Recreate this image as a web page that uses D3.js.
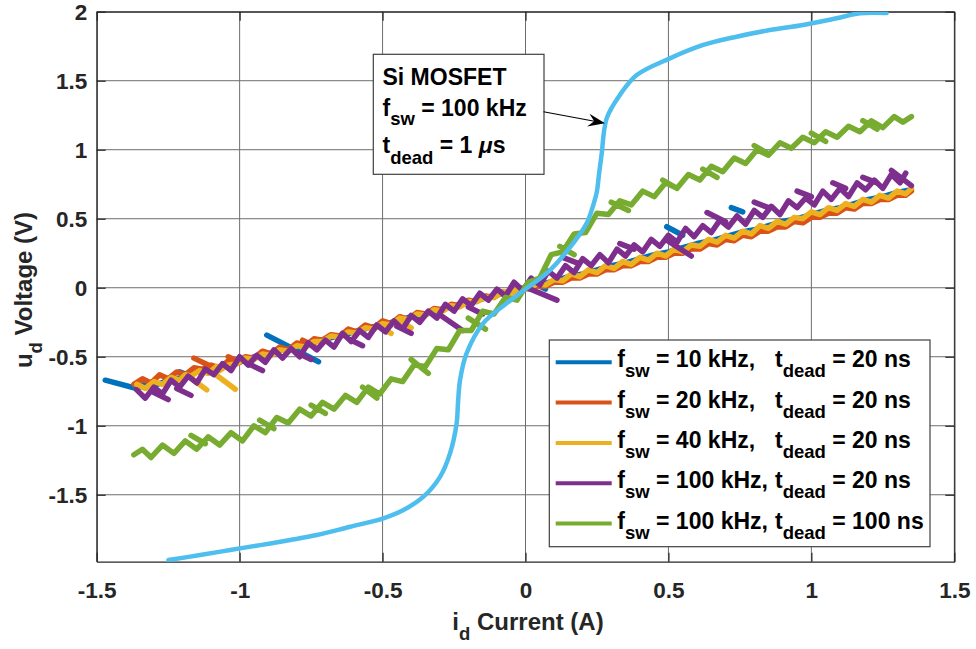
<!DOCTYPE html>
<html><head><meta charset="utf-8">
<script src="https://cdn.jsdelivr.net/npm/d3@7"></script>
<style>
body{margin:0;background:#fff;}
text{font-family:"Liberation Sans",Arial,Helvetica,sans-serif;font-weight:bold;}
</style>
</head><body>
<svg id="chart" width="976" height="649"></svg>
<script>
// ---------------- data ----------------
const xTicks = [-1.5, -1, -0.5, 0, 0.5, 1, 1.5];
const xTickLabels = ["-1.5", "-1", "-0.5", "0", "0.5", "1", "1.5"];
const yTicks = [-1.5, -1, -0.5, 0, 0.5, 1, 1.5, 2];
const yTickLabels = ["-1.5", "-1", "-0.5", "0", "0.5", "1", "1.5", "2"];

const seriesNames = [
  {f: "10 kHz,", t: "20 ns"},
  {f: "20 kHz,", t: "20 ns"},
  {f: "40 kHz,", t: "20 ns"},
  {f: "100 kHz,", t: "20 ns"},
  {f: "100 kHz,", t: "100 ns"}
];
const seriesColors = ["#0072BD", "#D95319", "#EDB120", "#7E2F8E", "#77AC30"];
const siColor = "#4DBEEE";

// fsw = 10 kHz, tdead = 20 ns  (null = break between strokes)
const fsw10 = [[-1.47,-0.67],[-1.36,-0.73],[-1.33,-0.70],[-1.30,-0.71],[-1.25,-0.67],[-1.20,-0.65],[-1.15,-0.61],[-1.10,-0.59],[-1.05,-0.56],[-1.00,-0.54],[-0.95,-0.50],[-0.90,-0.48],[-0.85,-0.45],[-0.80,-0.43],[-0.75,-0.40],[-0.70,-0.37],[-0.65,-0.35],[-0.60,-0.32],[-0.55,-0.29],[-0.50,-0.27],[-0.45,-0.24],[-0.40,-0.21],[-0.35,-0.19],[-0.30,-0.16],[-0.25,-0.13],[-0.20,-0.11],[-0.15,-0.08],[-0.10,-0.05],[-0.05,-0.03],[0.00,0.00],[0.05,0.02],[0.10,0.05],[0.15,0.08],[0.20,0.10],[0.25,0.13],[0.30,0.16],[0.35,0.18],[0.40,0.21],[0.45,0.24],[0.50,0.26],[0.55,0.29],[0.60,0.32],[0.65,0.34],[0.70,0.37],[0.75,0.40],[0.80,0.42],[0.85,0.45],[0.90,0.48],[0.95,0.50],[1.00,0.53],[1.05,0.56],[1.10,0.58],[1.15,0.61],[1.20,0.64],[1.25,0.66],[1.30,0.69],[1.35,0.71],
  null,[-0.905,-0.343],[-0.724,-0.536],null,[0.494,0.442],[0.55,0.38],null,[0.72,0.58],[0.76,0.55],null,[-1.21,-0.61],[-1.17,-0.64],null,[0.03,0.03],[0.07,-0.01]];

// fsw = 20 kHz, tdead = 20 ns
const fsw20 = [[-1.37,-0.70],[-1.34,-0.66],[-1.31,-0.69],[-1.28,-0.63],[-1.25,-0.66],[-1.22,-0.61],[-1.19,-0.63],[-1.16,-0.58],[-1.13,-0.59],[-1.10,-0.56],[-1.07,-0.58],[-1.04,-0.53],[-1.01,-0.55],[-0.98,-0.50],[-0.95,-0.51],[-0.92,-0.46],[-0.89,-0.48],[-0.86,-0.43],[-0.83,-0.45],[-0.80,-0.40],[-0.77,-0.42],[-0.74,-0.37],[-0.71,-0.38],[-0.68,-0.34],[-0.65,-0.35],[-0.62,-0.30],[-0.59,-0.32],[-0.56,-0.27],[-0.53,-0.29],[-0.50,-0.24],[-0.47,-0.26],[-0.44,-0.21],[-0.41,-0.23],[-0.38,-0.18],[-0.35,-0.19],[-0.32,-0.15],[-0.29,-0.16],[-0.26,-0.12],[-0.23,-0.13],[-0.20,-0.09],[-0.17,-0.10],[-0.14,-0.06],[-0.11,-0.07],[-0.08,-0.03],[-0.05,-0.04],[-0.02,0.00],[0.01,-0.01],[0.04,0.01],[0.07,0.01],[0.10,0.04],[0.13,0.04],[0.16,0.07],[0.19,0.07],[0.22,0.10],[0.25,0.10],[0.28,0.13],[0.31,0.13],[0.34,0.16],[0.37,0.16],[0.40,0.19],[0.43,0.19],[0.46,0.22],[0.49,0.22],[0.52,0.25],[0.55,0.25],[0.58,0.28],[0.61,0.28],[0.64,0.32],[0.67,0.31],[0.70,0.35],[0.73,0.34],[0.76,0.38],[0.79,0.37],[0.82,0.41],[0.85,0.41],[0.88,0.44],[0.91,0.44],[0.94,0.48],[0.97,0.47],[1.00,0.51],[1.03,0.51],[1.06,0.54],[1.09,0.54],[1.12,0.58],[1.15,0.57],[1.18,0.61],[1.21,0.61],[1.24,0.64],[1.27,0.64],[1.30,0.67],[1.33,0.67],[1.35,0.70],
  null,[-1.16,-0.51],[-1.11,-0.56],null,[-1.04,-0.50],[-1.00,-0.54],null,[-0.78,-0.38],[-0.74,-0.42]];

// fsw = 40 kHz, tdead = 20 ns
const fsw40 = [[-1.36,-0.70],[-1.33,-0.73],[-1.30,-0.68],[-1.27,-0.70],[-1.24,-0.65],[-1.21,-0.67],[-1.19,-0.63],[-1.17,-0.64],[-1.14,-0.60],[-1.11,-0.62],[-1.08,-0.57],[-1.07,-0.60],[-1.04,-0.56],[-1.01,-0.55],[-0.98,-0.51],[-0.95,-0.52],[-0.92,-0.48],[-0.89,-0.49],[-0.86,-0.45],[-0.83,-0.46],[-0.80,-0.42],[-0.77,-0.43],[-0.74,-0.39],[-0.71,-0.39],[-0.68,-0.35],[-0.65,-0.36],[-0.62,-0.32],[-0.59,-0.33],[-0.56,-0.29],[-0.53,-0.30],[-0.50,-0.26],[-0.47,-0.27],[-0.44,-0.22],[-0.41,-0.23],[-0.38,-0.19],[-0.35,-0.20],[-0.32,-0.16],[-0.29,-0.17],[-0.26,-0.13],[-0.23,-0.14],[-0.20,-0.10],[-0.17,-0.10],[-0.14,-0.07],[-0.11,-0.07],[-0.08,-0.03],[-0.05,-0.04],[-0.02,0.00],[0.01,-0.01],[0.04,0.03],[0.07,0.02],[0.10,0.06],[0.13,0.05],[0.16,0.10],[0.19,0.08],[0.22,0.13],[0.25,0.11],[0.28,0.16],[0.31,0.14],[0.34,0.19],[0.37,0.17],[0.40,0.22],[0.43,0.20],[0.46,0.25],[0.49,0.23],[0.52,0.28],[0.55,0.26],[0.58,0.31],[0.61,0.30],[0.64,0.35],[0.67,0.33],[0.70,0.38],[0.73,0.36],[0.76,0.41],[0.79,0.39],[0.82,0.45],[0.85,0.43],[0.88,0.48],[0.91,0.46],[0.94,0.51],[0.97,0.50],[1.00,0.55],[1.03,0.53],[1.06,0.58],[1.09,0.56],[1.12,0.61],[1.15,0.59],[1.18,0.64],[1.21,0.62],[1.24,0.67],[1.27,0.65],[1.30,0.70],[1.33,0.68],[1.35,0.72],
  null,[-1.18,-0.64],[-1.115,-0.74],null,[-1.09,-0.62],[-1.015,-0.735],null,[-0.52,-0.27],[-0.47,-0.33],null,[-0.44,-0.24],[-0.40,-0.29]];

// fsw = 100 kHz, tdead = 20 ns
const fsw100 = [[-1.36,-0.74],[-1.33,-0.80],[-1.30,-0.72],[-1.27,-0.77],[-1.24,-0.67],[-1.21,-0.72],[-1.18,-0.64],[-1.15,-0.69],[-1.12,-0.59],[-1.09,-0.63],[-1.06,-0.55],[-1.03,-0.60],[-1.00,-0.50],[-0.97,-0.56],[-0.94,-0.49],[-0.91,-0.54],[-0.88,-0.45],[-0.85,-0.51],[-0.82,-0.44],[-0.79,-0.50],[-0.76,-0.40],[-0.73,-0.45],[-0.70,-0.38],[-0.67,-0.43],[-0.64,-0.33],[-0.61,-0.39],[-0.58,-0.31],[-0.55,-0.36],[-0.52,-0.27],[-0.49,-0.32],[-0.46,-0.24],[-0.43,-0.30],[-0.40,-0.20],[-0.37,-0.25],[-0.34,-0.17],[-0.31,-0.22],[-0.28,-0.12],[-0.25,-0.17],[-0.22,-0.08],[-0.19,-0.13],[-0.16,-0.04],[-0.13,-0.09],[-0.10,-0.01],[-0.07,-0.06],[-0.04,0.04],[-0.01,-0.02],[0.02,0.07],[0.05,0.02],[0.08,0.12],[0.11,0.07],[0.14,0.16],[0.17,0.11],[0.20,0.21],[0.23,0.16],[0.26,0.24],[0.29,0.18],[0.32,0.28],[0.35,0.23],[0.38,0.31],[0.41,0.26],[0.44,0.35],[0.47,0.30],[0.50,0.38],[0.53,0.33],[0.56,0.43],[0.59,0.37],[0.62,0.45],[0.65,0.40],[0.68,0.49],[0.71,0.44],[0.74,0.52],[0.77,0.46],[0.80,0.56],[0.83,0.51],[0.86,0.59],[0.89,0.53],[0.92,0.63],[0.95,0.58],[0.98,0.65],[1.01,0.60],[1.04,0.70],[1.07,0.64],[1.10,0.72],[1.13,0.66],[1.16,0.76],[1.19,0.71],[1.22,0.78],[1.25,0.72],[1.28,0.82],[1.31,0.76],[1.33,0.83],
  null,[-1.30,-0.76],[-1.25,-0.81],null,[-1.22,-0.73],[-1.17,-0.78],null,[-0.97,-0.55],[-0.92,-0.60],null,[-0.80,-0.47],[-0.75,-0.52],null,[-0.62,-0.37],[-0.57,-0.42],null,[-0.45,-0.28],[-0.40,-0.33],null,[-0.29,-0.21],[-0.22,-0.31],null,[-0.20,-0.14],[-0.15,-0.19],null,[0.005,0.00],[0.11,-0.09],
  null,[0.13,0.22],[0.18,0.18],null,[0.33,0.32],[0.38,0.28],null,[0.49,0.35],[0.58,0.23],null,[0.635,0.545],[0.70,0.478],null,[0.80,0.62],[0.85,0.58],null,[0.95,0.70],[1.00,0.66],null,[1.075,0.76],[1.12,0.72],null,[1.18,0.80],[1.23,0.76],null,[1.28,0.85],[1.35,0.74]];

// fsw = 100 kHz, tdead = 100 ns
const fsw100d100 = [[-1.37,-1.21],[-1.34,-1.17],[-1.31,-1.23],[-1.27,-1.14],[-1.23,-1.20],[-1.19,-1.11],[-1.15,-1.17],[-1.11,-1.08],[-1.07,-1.14],[-1.03,-1.05],[-0.99,-1.11],[-0.95,-1.00],[-0.91,-1.05],[-0.87,-0.94],[-0.83,-0.98],[-0.79,-0.88],[-0.75,-0.93],[-0.71,-0.83],[-0.67,-0.88],[-0.63,-0.78],[-0.59,-0.83],[-0.55,-0.72],[-0.51,-0.77],[-0.47,-0.66],[-0.43,-0.68],[-0.39,-0.56],[-0.35,-0.57],[-0.31,-0.44],[-0.27,-0.45],[-0.23,-0.31],[-0.19,-0.31],[-0.15,-0.17],[-0.11,-0.19],[-0.07,-0.07],[-0.03,-0.09],[0.01,0.04],[0.05,0.07],[0.09,0.24],[0.13,0.26],[0.17,0.39],[0.21,0.40],[0.25,0.54],[0.29,0.53],[0.33,0.63],[0.37,0.60],[0.41,0.70],[0.45,0.66],[0.49,0.76],[0.53,0.72],[0.57,0.82],[0.61,0.78],[0.65,0.88],[0.69,0.84],[0.73,0.94],[0.77,0.90],[0.81,1.00],[0.85,0.96],[0.89,1.05],[0.93,1.01],[0.97,1.09],[1.01,1.05],[1.05,1.13],[1.09,1.09],[1.13,1.17],[1.17,1.13],[1.21,1.21],[1.25,1.16],[1.29,1.24],[1.32,1.20],[1.35,1.24],
  null,[-1.17,-1.07],[-1.12,-1.13],null,[-0.93,-0.96],[-0.88,-1.02],null,[-0.75,-0.85],[-0.70,-0.91],null,[-0.57,-0.72],[-0.52,-0.80],null,[-0.40,-0.52],[-0.34,-0.62],null,[-0.20,-0.22],[-0.14,-0.30],
  null,[0.12,0.30],[0.17,0.24],null,[0.30,0.62],[0.36,0.56],null,[0.48,0.78],[0.53,0.72],null,[0.62,0.86],[0.67,0.80],null,[0.80,1.03],[0.85,0.97],null,[1.00,1.12],[1.05,1.06],null,[1.18,1.21],[1.23,1.15]];

// Si MOSFET, fsw = 100 kHz, tdead = 1 us
const siMosfet = [[-1.249,-1.973],[-1.138,-1.937],[-1.033,-1.90],[-0.928,-1.865],[-0.823,-1.828],[-0.730,-1.792],[-0.614,-1.732],[-0.497,-1.671],[-0.427,-1.611],[-0.357,-1.514],[-0.299,-1.37],[-0.264,-1.20],[-0.241,-0.983],[-0.236,-0.83],[-0.229,-0.669],[-0.206,-0.475],[-0.148,-0.258],[-0.066,-0.113],[0.004,-0.004],[0.086,0.128],[0.175,0.345],[0.214,0.467],[0.237,0.599],[0.250,0.70],[0.257,0.82],[0.266,0.962],[0.284,1.227],[0.33,1.396],[0.389,1.541],[0.505,1.662],[0.622,1.759],[0.738,1.819],[0.855,1.867],[0.971,1.904],[1.088,1.952],[1.170,1.988],[1.263,1.99]];

const seriesData = [fsw10, fsw20, fsw40, fsw100, fsw100d100];

// ---------------- layout ----------------
const svg = d3.select("#chart");
const L = 96.7, R = 954.3, T = 11.7, B = 561.7;
const x = d3.scaleLinear().domain([-1.5, 1.5]).range([L, R]);
const y = d3.scaleLinear().domain([-1.985, 2]).range([B, T]);

svg.append("rect").attr("width", 976).attr("height", 649).attr("fill", "#fff");
svg.append("defs").append("clipPath").attr("id", "clip")
  .append("rect").attr("x", L).attr("y", T).attr("width", R - L).attr("height", B - T);

// grid
const grid = svg.append("g").attr("stroke", "#6e6e6e").attr("stroke-width", 1);
grid.selectAll(".gx").data(xTicks).join("line")
  .attr("x1", d => x(d)).attr("x2", d => x(d)).attr("y1", T).attr("y2", B);
grid.selectAll(".gy").data(yTicks).join("line")
  .attr("y1", d => y(d)).attr("y2", d => y(d)).attr("x1", L).attr("x2", R);

// axes via d3
const axColor = "#262626";
const xAxis = svg.append("g").attr("transform", `translate(0,${B})`)
  .call(d3.axisBottom(x).tickValues(xTicks).tickFormat((d, i) => xTickLabels[i]).tickSizeInner(-9).tickSizeOuter(0).tickPadding(20));
const yAxis = svg.append("g").attr("transform", `translate(${L},0)`)
  .call(d3.axisLeft(y).tickValues(yTicks).tickFormat((d, i) => yTickLabels[i]).tickSizeInner(-9).tickSizeOuter(0).tickPadding(9.5));
const xTop = svg.append("g").attr("transform", `translate(0,${T})`)
  .call(d3.axisTop(x).tickValues(xTicks).tickFormat("").tickSizeInner(-9).tickSizeOuter(0));
const yRight = svg.append("g").attr("transform", `translate(${R},0)`)
  .call(d3.axisRight(y).tickValues(yTicks).tickFormat("").tickSizeInner(-9).tickSizeOuter(0));
[xAxis, yAxis, xTop, yRight].forEach(g => {
  g.select(".domain").attr("stroke", axColor).attr("stroke-width", 1.2);
  g.selectAll(".tick line").attr("stroke", axColor).attr("stroke-width", 1.2);
  g.selectAll(".tick text").attr("fill", axColor)
    .style("font-family", '"Liberation Sans",Arial,sans-serif').style("font-weight", "bold").style("font-size", "22.5px");
});
yAxis.selectAll(".tick text").attr("dy", "0.36em");

// data lines
const line = d3.line().defined(d => d !== null).x(d => x(d[0])).y(d => y(d[1]));
const plot = svg.append("g").attr("clip-path", "url(#clip)");
seriesData.forEach((data, i) => {
  plot.append("path").datum(data).attr("d", line)
    .attr("fill", "none").attr("stroke", seriesColors[i]).attr("stroke-width", 5.5)
    .attr("stroke-linejoin", "round").attr("stroke-linecap", "round");
});
const siLine = d3.line().curve(d3.curveCatmullRom.alpha(0.5)).x(d => x(d[0])).y(d => y(d[1]));
plot.append("path").datum(siMosfet).attr("d", siLine)
  .attr("fill", "none").attr("stroke", siColor).attr("stroke-width", 4.5)
  .attr("stroke-linejoin", "round").attr("stroke-linecap", "round");

// text helper with subscripts
function subText(g, parts, attrs) {
  const t = g.append("text");
  Object.entries(attrs).forEach(([k, v]) => t.attr(k, v));
  parts.forEach(p => {
    const s = t.append("tspan").text(p.s);
    if (p.sub) s.attr("font-size", "18.5px");
    if (p.dy) s.attr("dy", p.dy);
    if (p.it) s.attr("font-style", "italic");
  });
  return t;
}
// axis labels
subText(svg, [{s: "i"}, {s: "d", sub: true, dy: 10}, {s: " Current (A)", dy: -10}],
  {x: 528, y: 630, "text-anchor": "middle", "font-size": "24px", fill: axColor});
subText(svg, [{s: "u"}, {s: "d", sub: true, dy: 10}, {s: " Voltage (V)", dy: -10}],
  {transform: "translate(32,290) rotate(-90)", "text-anchor": "middle", "font-size": "24px", fill: axColor});

// annotation box + arrow
svg.append("rect").attr("x", 373.3).attr("y", 54.3).attr("width", 170.7).attr("height", 120)
  .attr("fill", "#fff").attr("stroke", "#404040").attr("stroke-width", 1.2);
const ann = svg.append("g").attr("fill", "#000");
subText(ann, [{s: "Si MOSFET"}], {x: 382.5, y: 85, "font-size": "23px"});
subText(ann, [{s: "f"}, {s: "sw", sub: true, dy: 9}, {s: " = 100 kHz", dy: -9}], {x: 382.5, y: 116, "font-size": "23px"});
subText(ann, [{s: "t"}, {s: "dead", sub: true, dy: 11}, {s: " = 1 ", dy: -11}, {s: "μ", it: true}, {s: "s"}], {x: 382.5, y: 153, "font-size": "23px"});

const ax0 = 543.5, ay0 = 111.7, ax1 = 605, ay1 = 123.3;
const ang = Math.atan2(ay1 - ay0, ax1 - ax0);
const hl = 17, hw = 6.5;
svg.append("line").attr("x1", ax0).attr("y1", ay0).attr("x2", ax1 - Math.cos(ang) * 8).attr("y2", ay1 - Math.sin(ang) * 8)
  .attr("stroke", "#000").attr("stroke-width", 1.1);
const pt = (d, s) => [ax1 - Math.cos(ang) * d - Math.sin(ang) * s, ay1 - Math.sin(ang) * d + Math.cos(ang) * s];
svg.append("path").attr("d", d3.line()([pt(0, 0), pt(hl, hw), pt(hl * 0.65, 0), pt(hl, -hw)]) + "Z").attr("fill", "#000");

// legend
const lg = svg.append("g");
lg.append("rect").attr("x", 549.3).attr("y", 340).attr("width", 380.7).attr("height", 206.7)
  .attr("fill", "#fff").attr("stroke", "#404040").attr("stroke-width", 1.2);
seriesNames.forEach((s, i) => {
  const by = 367.3 + i * 40.3;
  lg.append("line").attr("x1", 555.7).attr("x2", 611.7).attr("y1", by - 5).attr("y2", by - 5)
    .attr("stroke", seriesColors[i]).attr("stroke-width", 4);
  subText(lg, [{s: "f"}, {s: "sw", sub: true, dy: 10}, {s: " = " + s.f, dy: -10}], {x: 617.3, y: by, "font-size": "23px", fill: "#000"});
  subText(lg, [{s: "t"}, {s: "dead", sub: true, dy: 10}, {s: " = " + s.t, dy: -10}], {x: 775, y: by, "font-size": "23px", fill: "#000"});
});
</script>
</body></html>
